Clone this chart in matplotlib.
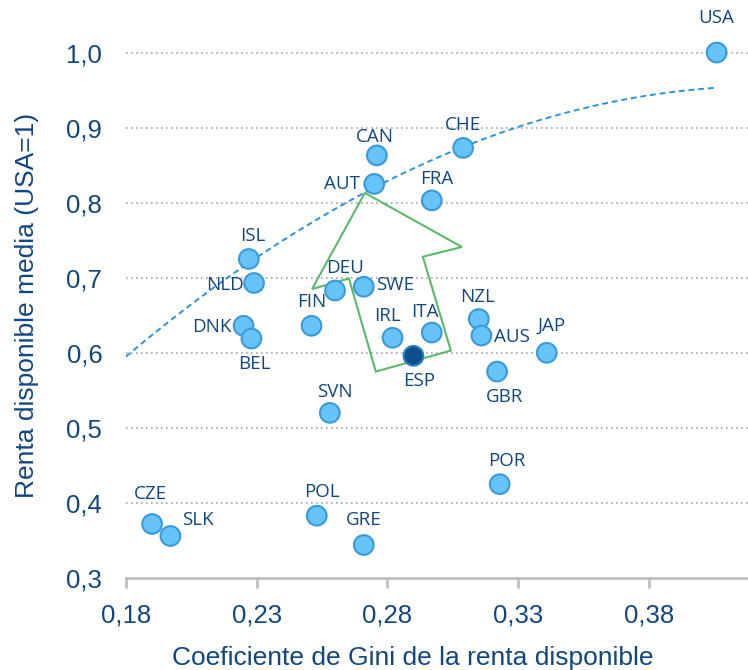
import numpy as np
from matplotlib import pyplot as plt
from matplotlib.patches import Polygon

paises = ["USA", "CHE", "CAN", "AUT", "FRA", "ISL", "NLD", "DEU", "SWE", "FIN",
          "DNK", "BEL", "IRL", "ITA", "NZL", "AUS", "JAP", "ESP", "GBR", "SVN",
          "POR", "CZE", "SLK", "POL", "GRE"]
gini = [0.406, 0.309, 0.276, 0.275, 0.297, 0.227, 0.229, 0.260, 0.271, 0.251,
        0.225, 0.228, 0.282, 0.297, 0.315, 0.316, 0.341, 0.290, 0.322, 0.258,
        0.323, 0.190, 0.197, 0.253, 0.271]
renta = [1.000, 0.873, 0.863, 0.825, 0.803, 0.725, 0.693, 0.683, 0.688, 0.636,
         0.636, 0.619, 0.620, 0.627, 0.645, 0.623, 0.600, 0.596, 0.575, 0.520,
         0.425, 0.372, 0.356, 0.383, 0.344]

# tendencia polinomica (grado 2) en funcion de (gini - 0,18)
tend_coef = [-5.985, 2.937, 0.595]
tend_desde, tend_hasta = 0.18, 0.406

# desplazamiento de cada etiqueta respecto a su punto (pixeles) y alineacion
etiquetas = {
    "USA": (0, 35, "center"), "CHE": (0, 23, "center"), "CAN": (-2, 18, "center"),
    "AUT": (-14, 0, "right"), "FRA": (5, 21, "center"), "ISL": (4, 23, "center"),
    "NLD": (-10, -2, "right"), "DEU": (10, 23, "center"), "SWE": (12, 2, "left"),
    "FIN": (0, 24, "center"), "DNK": (-12, -1, "right"), "BEL": (3, -25, "center"),
    "IRL": (-5, 22, "center"), "ITA": (-7, 21, "center"), "NZL": (-1, 22, "center"),
    "AUS": (13, -1, "left"), "JAP": (5, 27, "center"), "ESP": (6, -25, "center"),
    "GBR": (7, -25, "center"), "SVN": (5, 21, "center"), "POR": (7, 23, "center"),
    "CZE": (-2, 30, "center"), "SLK": (27, 16, "center"), "POL": (5, 24, "center"),
    "GRE": (0, 25, "center"),
}

# flecha verde (contorno) sobre la nube de puntos
flecha = [(0.2714, 0.813), (0.3085, 0.741), (0.2936, 0.728), (0.3043, 0.603),
          (0.2756, 0.575), (0.2653, 0.699), (0.2512, 0.685)]

azul_txt = "#12467f"
azul_pto = "#66c4fb"
borde_pto = "#3a9ad9"

fig = plt.figure(figsize=(7.48, 6.7), dpi=100)
ax = fig.add_axes([0.1684, 0.1373, 0.8316, 0.8627])

xs = np.linspace(tend_desde, tend_hasta, 200)
ax.plot(xs, np.polyval(tend_coef, xs - 0.18), linestyle=(0, (3, 2)),
        color="#2d93d6", linewidth=1.4, zorder=2)

ax.add_patch(Polygon(flecha, closed=True, fill=False, edgecolor="#5cb96a",
                     linewidth=1.5, zorder=3))

colores = ["#0b4f8c" if p == "ESP" else azul_pto for p in paises]
bordes = ["#2a7cc0" if p == "ESP" else borde_pto for p in paises]
ax.scatter(gini, renta, s=200, c=colores, edgecolors=bordes, linewidths=1.5, zorder=4)

for p, x, y in zip(paises, gini, renta):
    dx, dy, ha = etiquetas[p]
    ax.annotate(p, (x, y), xytext=(dx, dy), textcoords="offset pixels",
                ha=ha, va="center", fontsize=13.5, color=azul_txt,
                family="Open Sans", zorder=5)

ax.set_xlim(0.18, 0.418)
ax.set_ylim(0.3, 1.07)
ax.set_xticks([0.18, 0.23, 0.28, 0.33, 0.38])
ax.set_xticklabels(["0,18", "0,23", "0,28", "0,33", "0,38"])
ax.set_yticks([0.3, 0.4, 0.5, 0.6, 0.7, 0.8, 0.9, 1.0])
ax.set_yticklabels(["0,3", "0,4", "0,5", "0,6", "0,7", "0,8", "0,9", "1,0"])

for y in [0.4, 0.5, 0.6, 0.7, 0.8, 0.9, 1.0]:
    ax.axhline(y, color="#a6a6a6", linestyle=(0, (1, 2)), linewidth=1.2, zorder=1)

for lado in ["top", "right", "left"]:
    ax.spines[lado].set_visible(False)
ax.spines["bottom"].set_color("#bfbfbf")
ax.spines["bottom"].set_linewidth(2)
ax.tick_params(axis="x", direction="out", length=7, width=2, color="#bfbfbf",
               labelsize=18.5, labelcolor=azul_txt, pad=11)
ax.tick_params(axis="y", length=0, labelsize=18.5, labelcolor=azul_txt, pad=17)
for t in ax.get_xticklabels() + ax.get_yticklabels():
    t.set_family("Liberation Sans")

ax.set_xlabel("Coeficiente de Gini de la renta disponible", fontsize=19,
              color=azul_txt, family="Liberation Sans")
ax.set_ylabel("Renta disponible media (USA=1)", fontsize=19,
              color=azul_txt, family="Liberation Sans")
ax.xaxis.set_label_coords(0.461, -0.117)
ax.yaxis.set_label_coords(-0.14, 0.472)

plt.savefig("out.png", dpi=100)
